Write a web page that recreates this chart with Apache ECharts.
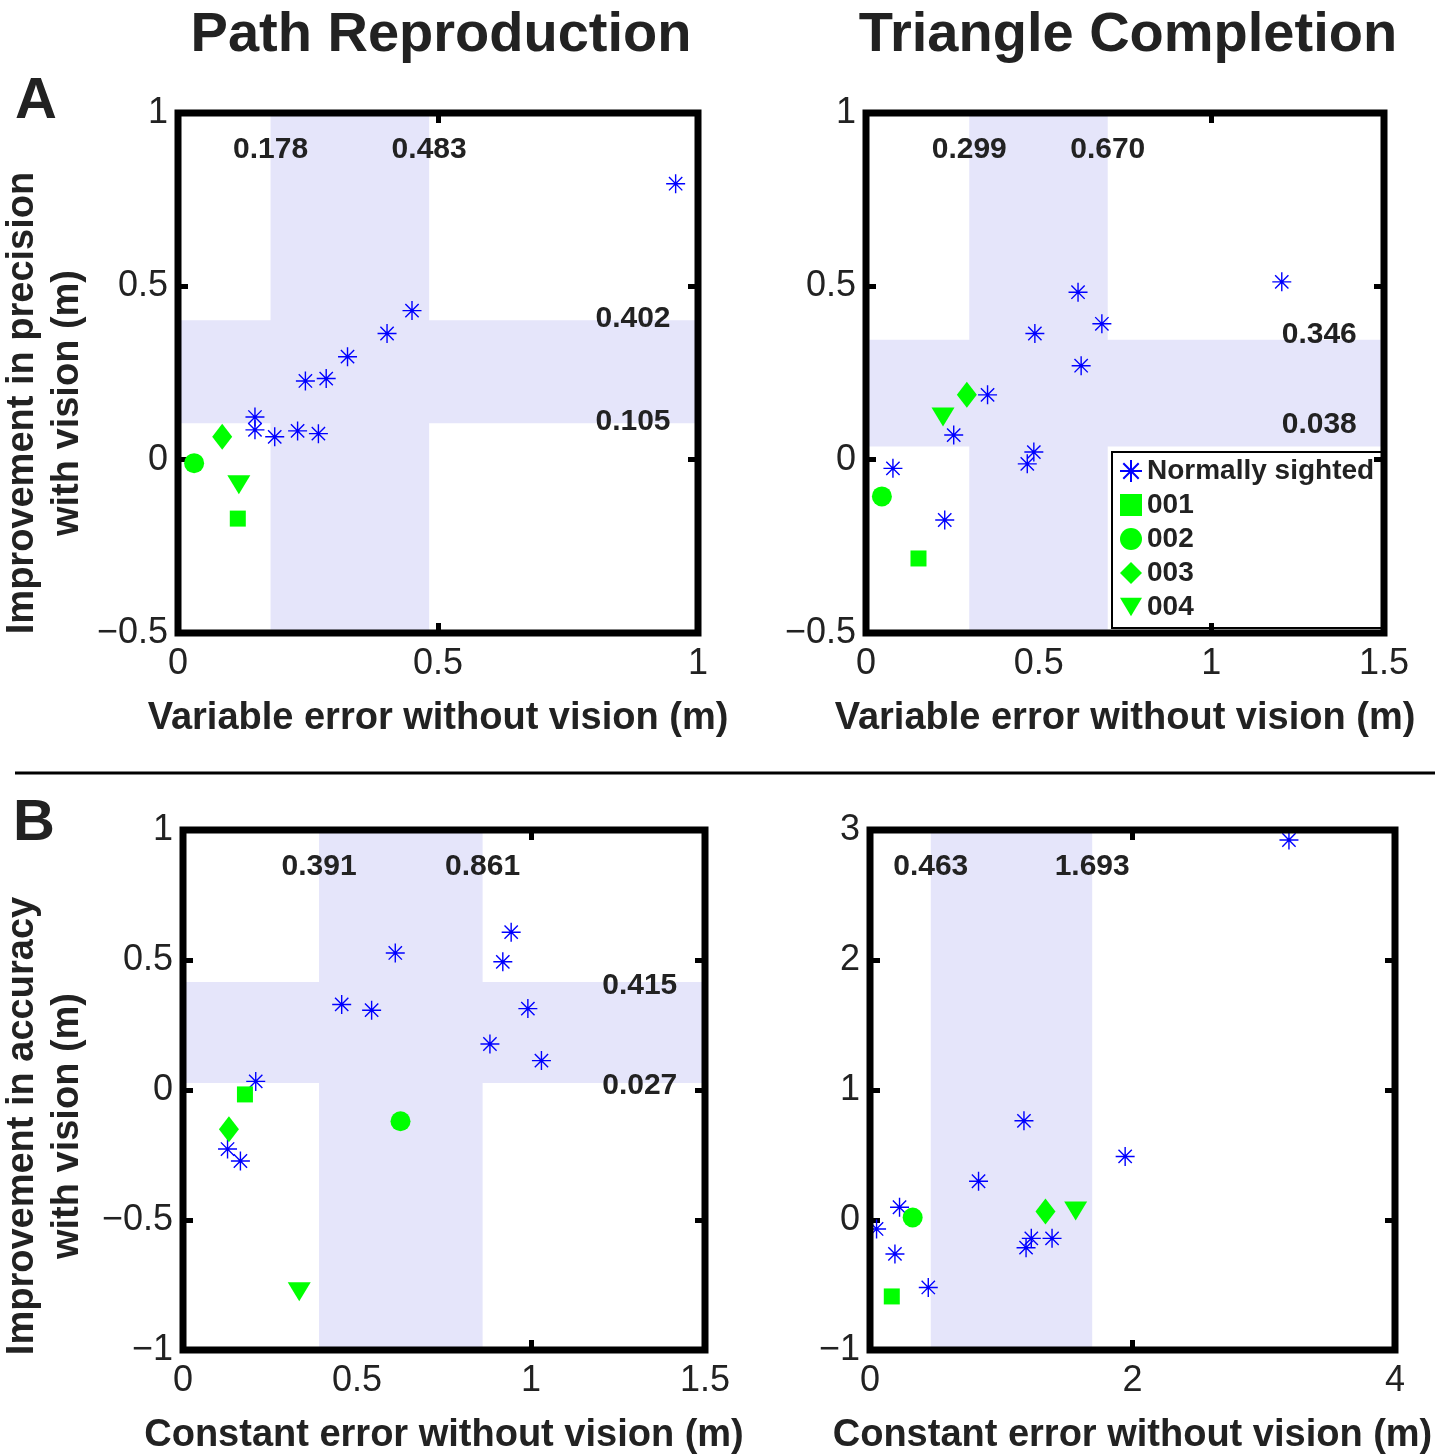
<!DOCTYPE html>
<html><head><meta charset="utf-8">
<script src="https://cdn.jsdelivr.net/npm/echarts@6/dist/echarts.min.js"></script>
<style>html,body{margin:0;padding:0;background:#fff}#c{width:1450px;height:1456px}</style>
</head><body><div id="c"></div>
<script>
// ---------- DATA ----------
const seriesNames = ['Normally sighted', '001', '002', '003', '004'];

// A-left: Path Reproduction, precision
const prPrecNormX = [0.957, 0.450, 0.402, 0.326, 0.285, 0.245, 0.148, 0.148, 0.186, 0.230, 0.270];
const prPrecNormY = [0.796, 0.430, 0.364, 0.297, 0.234, 0.227, 0.123, 0.086, 0.066, 0.083, 0.075];
const prPrecPatX = [0.115, 0.031, 0.085, 0.117];   // 001, 002, 003, 004
const prPrecPatY = [-0.170, -0.010, 0.066, -0.072];
const prPrecBandX = [0.178, 0.483];
const prPrecBandY = [0.105, 0.402];
const prPrecLabX = ['0.178', '0.483'];
const prPrecLabY = ['0.105', '0.402'];
const prPrecXAxis = [0, 1, 0.5];
const prPrecYAxis = [-0.5, 1, 0.5];

// A-right: Triangle Completion, precision
const tcPrecNormX = [1.204, 0.614, 0.683, 0.489, 0.623, 0.352, 0.254, 0.486, 0.467, 0.078, 0.228];
const tcPrecNormY = [0.513, 0.483, 0.392, 0.364, 0.271, 0.187, 0.071, 0.022, -0.012, -0.025, -0.174];
const tcPrecPatX = [0.152, 0.046, 0.292, 0.223];
const tcPrecPatY = [-0.285, -0.106, 0.187, 0.123];
const tcPrecBandX = [0.299, 0.700];
const tcPrecBandY = [0.038, 0.346];
const tcPrecLabX = ['0.299', '0.670'];
const tcPrecLabY = ['0.038', '0.346'];
const tcPrecXAxis = [0, 1.5, 0.5];
const tcPrecYAxis = [-0.5, 1, 0.5];

// B-left: Path Reproduction, accuracy
const prAccNormX = [0.943, 0.919, 0.610, 0.456, 0.542, 0.991, 0.882, 1.030, 0.209, 0.128, 0.165];
const prAccNormY = [0.607, 0.493, 0.527, 0.329, 0.307, 0.313, 0.177, 0.113, 0.033, -0.227, -0.273];
const prAccPatX = [0.178, 0.625, 0.132, 0.334];
const prAccPatY = [-0.017, -0.120, -0.151, -0.776];
const prAccBandX = [0.391, 0.861];
const prAccBandY = [0.027, 0.415];
const prAccLabX = ['0.391', '0.861'];
const prAccLabY = ['0.027', '0.415'];
const prAccXAxis = [0, 1.5, 0.5];
const prAccYAxis = [-1, 1, 0.5];

// B-right: Triangle Completion, accuracy
const tcAccNormX = [3.192, 1.173, 1.944, 0.827, 0.225, 0.050, 0.190, 0.444, 1.229, 1.189, 1.387];
const tcAccNormY = [2.923, 0.763, 0.489, 0.298, 0.098, -0.069, -0.261, -0.519, -0.141, -0.213, -0.141];
const tcAccPatX = [0.166, 0.325, 1.337, 1.567];
const tcAccPatY = [-0.588, 0.019, 0.066, 0.070];
const tcAccBandX = [0.463, 1.693];
const tcAccBandY = [];
const tcAccLabX = ['0.463', '1.693'];
const tcAccLabY = [];
const tcAccXAxis = [0, 4, 2];
const tcAccYAxis = [-1, 3, 1];

const xNamePrec = 'Variable error without vision (m)';
const xNameAcc = 'Constant error without vision (m)';

// ---------- LAYOUT / STYLE ----------
const FONT = "'Liberation Sans', Arial, Helvetica, sans-serif";
const TXT = '#222';
const BLUE = '#0000ff';
const GREEN = '#00ff00';
const BAND = '#e5e5fa';
const STAR = 'path://M10,0L10,20M0,10L20,10M3,3L17,17M3,17L17,3';
const TRI_DOWN = 'path://M0,0L24,0L12,20Z';
const patSymbols = [
  {symbol: 'rect', size: 16},
  {symbol: 'circle', size: 20},
  {symbol: 'diamond', size: [20, 26]},
  {symbol: TRI_DOWN, size: [23, 19]}
];

const panels = [
  {grid: {left: 178, top: 113, width: 520, height: 520}, xA: prPrecXAxis, yA: prPrecYAxis, xName: xNamePrec,
   nx: prPrecNormX, ny: prPrecNormY, px: prPrecPatX, py: prPrecPatY, bx: prPrecBandX, by: prPrecBandY, lx: prPrecLabX, ly: prPrecLabY,
   lyOff: [-2, -2]},
  {grid: {left: 866, top: 113, width: 518, height: 520}, xA: tcPrecXAxis, yA: tcPrecYAxis, xName: xNamePrec,
   nx: tcPrecNormX, ny: tcPrecNormY, px: tcPrecPatX, py: tcPrecPatY, bx: tcPrecBandX, by: tcPrecBandY, lx: tcPrecLabX, ly: tcPrecLabY,
   lyOff: [-22, -5]},
  {grid: {left: 183, top: 830, width: 522, height: 522}, xA: prAccXAxis, yA: prAccYAxis, xName: xNameAcc,
   nx: prAccNormX, ny: prAccNormY, px: prAccPatX, py: prAccPatY, bx: prAccBandX, by: prAccBandY, lx: prAccLabX, ly: prAccLabY,
   lyOff: [3, 4]},
  {grid: {left: 870, top: 830, width: 525, height: 522}, xA: tcAccXAxis, yA: tcAccYAxis, xName: xNameAcc,
   nx: tcAccNormX, ny: tcAccNormY, px: tcAccPatX, py: tcAccPatY, bx: tcAccBandX, by: tcAccBandY, lx: tcAccLabX, ly: tcAccLabY,
   lyOff: []}
];

const fmt = v => (v < 0 ? '\u2212' : '') + Math.abs(v);
const tick = {show: true, inside: true, length: 10, lineStyle: {color: '#000', width: 5}};

const grids = [], xAxes = [], yAxes = [], series = [];
panels.forEach((p, i) => {
  grids.push(Object.assign({show: true, borderColor: '#000', borderWidth: 7, backgroundColor: 'transparent', z: 10}, p.grid));
  const xBase = {gridIndex: i, type: 'value', min: p.xA[0], max: p.xA[1], interval: p.xA[2], z: 1,
    axisLine: {show: false, onZero: false}, axisTick: tick, splitLine: {show: false}};
  const yBase = {gridIndex: i, type: 'value', min: p.yA[0], max: p.yA[1], interval: p.yA[2], z: 1,
    axisLine: {show: false, onZero: false}, axisTick: tick, splitLine: {show: false}};
  xAxes.push(Object.assign({}, xBase, {position: 'bottom',
    axisLabel: {show: true, formatter: fmt, fontSize: 36, color: TXT, fontFamily: FONT, margin: 13, showMinLabel: true, showMaxLabel: true},
    name: p.xName, nameLocation: 'middle', nameGap: 67,
    nameTextStyle: {fontSize: 38, fontWeight: 'bold', color: TXT, fontFamily: FONT}}));
  xAxes.push(Object.assign({}, xBase, {position: 'top', axisLabel: {show: false}}));
  yAxes.push(Object.assign({}, yBase, {position: 'left',
    axisLabel: {show: true, formatter: fmt, fontSize: 36, color: TXT, fontFamily: FONT, margin: 10, showMinLabel: true, showMaxLabel: true}}));
  yAxes.push(Object.assign({}, yBase, {position: 'right', axisLabel: {show: false}}));

  const ax = 2 * i;
  // shaded bands
  const areas = [];
  if (p.bx.length) areas.push([{xAxis: p.bx[0]}, {xAxis: p.bx[1]}]);
  if (p.by.length) areas.push([{yAxis: p.by[0]}, {yAxis: p.by[1]}]);
  series.push({type: 'scatter', name: '_band' + i, xAxisIndex: ax, yAxisIndex: ax, data: [], z: 2, silent: true,
    markArea: {silent: true, z: 2, label: {show: false}, itemStyle: {color: BAND, opacity: 1, borderWidth: 0}, data: areas}});
  // normally sighted
  series.push({type: 'scatter', name: seriesNames[0], xAxisIndex: ax, yAxisIndex: ax, z: 3, silent: true,
    symbol: STAR, symbolSize: 19, itemStyle: {color: BLUE, borderColor: BLUE, borderWidth: 1.4, opacity: 1},
    data: p.nx.map((x, k) => [x, p.ny[k]])});
  // patients
  p.px.forEach((x, k) => {
    series.push({type: 'scatter', name: seriesNames[k + 1], xAxisIndex: ax, yAxisIndex: ax, z: 3, silent: true,
      symbol: patSymbols[k].symbol, symbolSize: patSymbols[k].size, symbolKeepAspect: false,
      itemStyle: {color: GREEN, opacity: 1}, data: [[x, p.py[k]]]});
  });
  // band value labels
  const xr = p.xA[1] - p.xA[0], yr = p.yA[1] - p.yA[0];
  const labData = [];
  p.bx.forEach((v, k) => labData.push({value: [v, p.yA[1] - 0.07 * yr], name: p.lx[k]}));
  p.by.forEach((v, k) => labData.push({value: [p.xA[0] + 0.875 * xr, v], name: p.ly[k],
    label: {offset: [0, p.lyOff[k] || 0]}}));
  series.push({type: 'scatter', name: '_lab' + i, xAxisIndex: ax, yAxisIndex: ax, z: 4, silent: true,
    symbolSize: 1, itemStyle: {color: 'rgba(255,255,255,0)'},
    label: {show: true, position: 'inside', formatter: '{b}', fontSize: 30, fontWeight: 'bold', color: TXT,
      fontFamily: FONT, textBorderWidth: 0, textBorderColor: 'transparent', opacity: 1},
    data: labData});
});

const txt = (text, x, y, size, extra) => Object.assign({type: 'text', x, y, silent: true,
  style: {text, fontSize: size, fontWeight: 'bold', fontFamily: FONT, fill: TXT, align: 'center', verticalAlign: 'middle'}}, extra || {});

const option = {
  animation: false,
  backgroundColor: '#fff',
  grid: grids,
  xAxis: xAxes,
  yAxis: yAxes,
  series,
  legend: {
    data: seriesNames, selectedMode: false, orient: 'vertical',
    left: 1112, top: 452, z: 0,
    padding: [4, 9, 6, 7], itemGap: 4, itemWidth: 22, itemHeight: 22,
    backgroundColor: '#fff', borderColor: '#000', borderWidth: 2,
    textStyle: {fontSize: 28, fontWeight: 'bold', color: TXT, fontFamily: FONT, lineHeight: 30}
  },
  graphic: [
    txt('Path Reproduction', 441, 36, 56),
    txt('Triangle Completion', 1128, 36, 56),
    txt('A', 36, 102, 58),
    txt('B', 34, 824, 58),
    Object.assign(txt('Improvement in precision\nwith vision (m)', 45, 403, 38), {rotation: Math.PI / 2}),
    Object.assign(txt('Improvement in accuracy\nwith vision (m)', 45, 1126, 38), {rotation: Math.PI / 2}),
    {type: 'line', silent: true, shape: {x1: 15, y1: 773, x2: 1435, y2: 773}, style: {stroke: '#000', lineWidth: 3}}
  ]
};
option.graphic[4].style.lineHeight = 45;
option.graphic[5].style.lineHeight = 45;

const chart = echarts.init(document.getElementById('c'), null, {renderer: 'canvas'});
chart.setOption(option);
</script></body></html>
